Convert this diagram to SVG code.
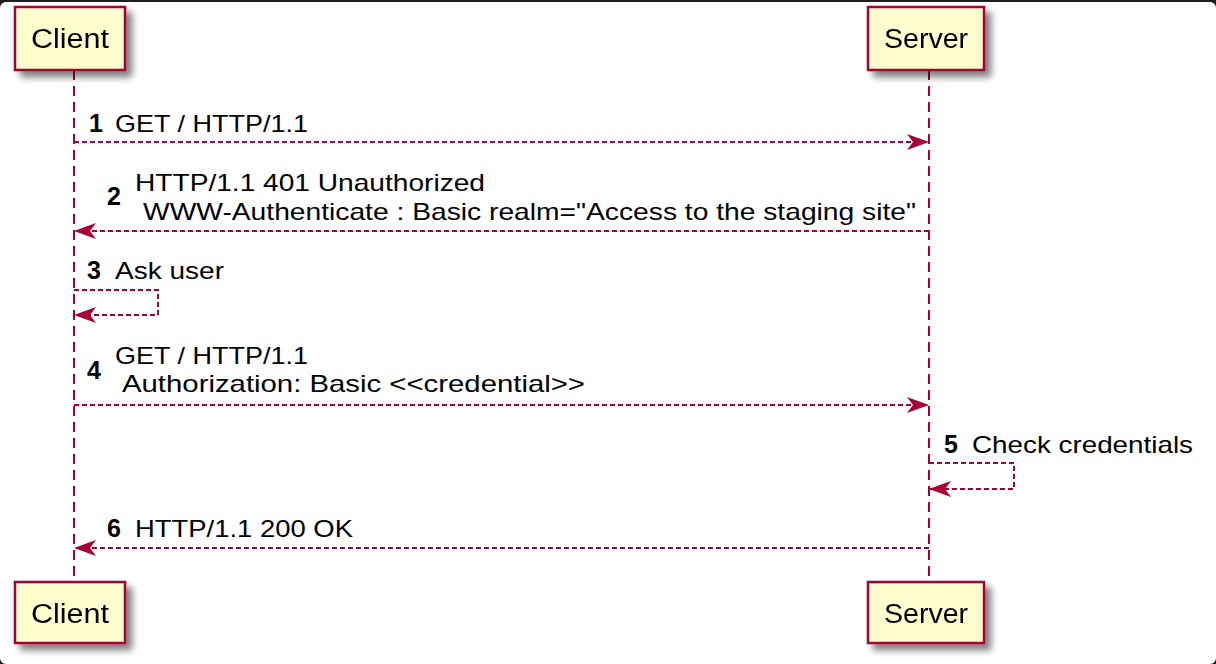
<svg xmlns="http://www.w3.org/2000/svg" width="1216" height="664" viewBox="0 0 1216 664">
<defs>
<filter id="sh" x="-20%" y="-20%" width="150%" height="160%">
<feGaussianBlur in="SourceAlpha" stdDeviation="3.5"/>
<feOffset dx="6" dy="6" result="b"/>
<feComponentTransfer><feFuncA type="linear" slope="0.5"/></feComponentTransfer>
<feMerge><feMergeNode/><feMergeNode in="SourceGraphic"/></feMerge>
</filter>
<marker id="ah" viewBox="0 0 22 18" refX="22" refY="9" markerWidth="22" markerHeight="18" markerUnits="userSpaceOnUse" orient="auto">
<polygon points="0,1 22,9 0,17 6,9" fill="#A80036"/>
</marker>
</defs>
<style>
.box{fill:#FEFECE;stroke:#A80036;stroke-width:2.5}
.pt{font-family:"Liberation Sans",Arial,sans-serif;font-size:27px;fill:#000}
.life{stroke:#A80036;stroke-width:2;stroke-dasharray:10,6;fill:none}
.msg{stroke:#A80036;stroke-width:2;stroke-dasharray:5,3;fill:none}
.t{font-family:"Liberation Sans",Arial,sans-serif;font-size:24px;fill:#000}
.n{font-family:"Liberation Sans",Arial,sans-serif;font-size:25px;font-weight:bold;fill:#000}
</style>
<rect x="0" y="0" width="1216" height="664" fill="#1e1e1e"/>
<rect x="0" y="2" width="1216" height="662" rx="6" fill="#ffffff"/>
<g id="lifelines">
<line class="life" x1="74" y1="70" x2="74" y2="582"/>
<line class="life" x1="929" y1="70" x2="929" y2="582"/>
</g>
<g id="client-top" filter="url(#sh)">
<rect class="box" x="15" y="7" width="110" height="63"/>
<text class="pt" x="31" y="48" textLength="78" lengthAdjust="spacingAndGlyphs">Client</text>
</g>
<g id="server-top" filter="url(#sh)">
<rect class="box" x="868" y="7" width="116" height="63"/>
<text class="pt" x="884" y="48" textLength="84" lengthAdjust="spacingAndGlyphs">Server</text>
</g>
<g id="client-bottom" filter="url(#sh)">
<rect class="box" x="15" y="582" width="110" height="61"/>
<text class="pt" x="31" y="623" textLength="78" lengthAdjust="spacingAndGlyphs">Client</text>
</g>
<g id="server-bottom" filter="url(#sh)">
<rect class="box" x="868" y="582" width="116" height="61"/>
<text class="pt" x="884" y="623" textLength="84" lengthAdjust="spacingAndGlyphs">Server</text>
</g>
<g id="connectors">
<line class="msg" x1="74" y1="142" x2="929" y2="142" marker-end="url(#ah)"/>
<line class="msg" x1="929" y1="231" x2="74" y2="231" marker-end="url(#ah)"/>
<polyline class="msg" points="74,290 158,290 158,315 74,315" marker-end="url(#ah)"/>
<line class="msg" x1="74" y1="405" x2="929" y2="405" marker-end="url(#ah)"/>
<polyline class="msg" points="929,463 1014,463 1014,489 929,489" marker-end="url(#ah)"/>
<line class="msg" x1="929" y1="548" x2="74" y2="548" marker-end="url(#ah)"/>
</g>
<g id="labels">
<text class="n" x="89" y="132">1</text>
<text class="t" x="115" y="132" textLength="193" lengthAdjust="spacingAndGlyphs">GET / HTTP/1.1</text>
<text class="n" x="107" y="205">2</text>
<text class="t" x="135" y="191" textLength="350" lengthAdjust="spacingAndGlyphs">HTTP/1.1 401 Unauthorized</text>
<text class="t" x="143" y="220" textLength="773" lengthAdjust="spacingAndGlyphs">WWW-Authenticate : Basic realm="Access to the staging site"</text>
<text class="n" x="87" y="279">3</text>
<text class="t" x="115" y="279" textLength="109" lengthAdjust="spacingAndGlyphs">Ask user</text>
<text class="n" x="87" y="379">4</text>
<text class="t" x="115" y="364" textLength="193" lengthAdjust="spacingAndGlyphs">GET / HTTP/1.1</text>
<text class="t" x="122" y="392" textLength="463" lengthAdjust="spacingAndGlyphs">Authorization: Basic &lt;&lt;credential&gt;&gt;</text>
<text class="n" x="944" y="453">5</text>
<text class="t" x="972" y="453" textLength="221" lengthAdjust="spacingAndGlyphs">Check credentials</text>
<text class="n" x="107" y="537">6</text>
<text class="t" x="135" y="537" textLength="218" lengthAdjust="spacingAndGlyphs">HTTP/1.1 200 OK</text>
</g>
</svg>
